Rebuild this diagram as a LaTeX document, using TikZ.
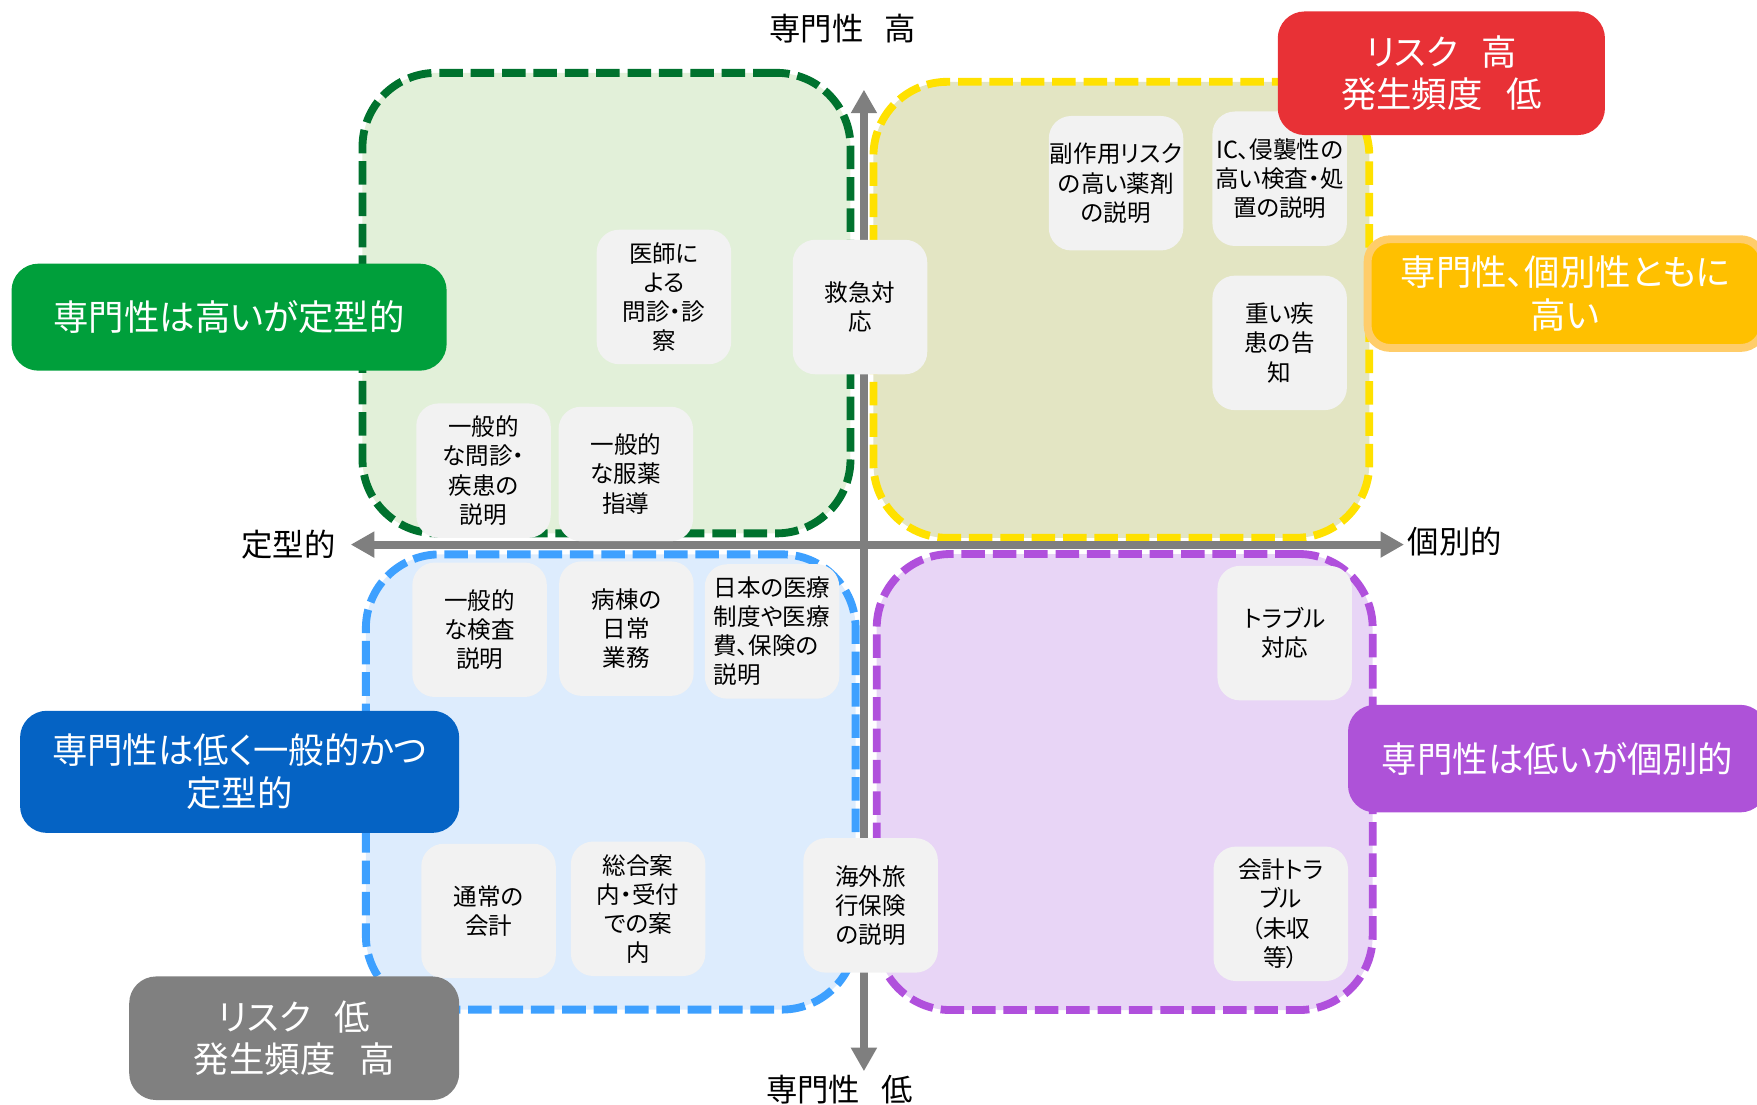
\documentclass[tikz,border=0pt]{standalone}
\usepackage{fontspec}
\setmainfont{Noto Sans CJK JP}[RawFeature={+palt}]
\usetikzlibrary{arrows.meta}
\newcommand\zsp{\makebox[0.66em][l]{　}}
\definecolor{greenfill}{HTML}{E2F0D9}
\definecolor{greenline}{HTML}{00722E}
\definecolor{yellowfill}{HTML}{E3E5C3}
\definecolor{yellowline}{HTML}{FFE100}
\definecolor{bluefill}{HTML}{DDECFD}
\definecolor{blueline}{HTML}{3DA0FF}
\definecolor{purplefill}{HTML}{E8D5F6}
\definecolor{purpleline}{HTML}{B050DC}
\definecolor{glab}{HTML}{009F3B}
\definecolor{rlab}{HTML}{E83136}
\definecolor{olab}{HTML}{FFC000}
\definecolor{olabline}{HTML}{FFCD6A}
\definecolor{blab}{HTML}{0563C4}
\definecolor{plab}{HTML}{AE52D8}
\definecolor{graylab}{HTML}{808080}
\definecolor{nodefill}{HTML}{F2F2F2}
\definecolor{axisgray}{HTML}{7F7F7F}
\tikzset{
  quad/.style={line width=3.5pt, dash pattern=on 10.5pt off 3.5pt, rounded corners=33pt, inner sep=0pt, outer sep=0pt},
  lab/.style={rounded corners=12pt, inner sep=0pt, outer sep=0pt, text=white, font=\fontsize{15.8pt}{19pt}\selectfont, align=center},
  item/.style={fill=nodefill, rounded corners=10pt, minimum width=60pt, minimum height=60pt, inner sep=0pt, font=\fontsize{10.5pt}{13pt}\selectfont, align=center, text=black},
  axisline/.style={draw=axisgray, line width=3.5pt, {Triangle[width=11pt,length=10.5pt]}-{Triangle[width=11pt,length=10.5pt]}},
  axlab/.style={font=\fontsize{14pt}{16pt}\selectfont, text=black, inner sep=0pt},
}
\begin{document}
\begin{tikzpicture}[x=0.5pt,y=-0.5pt]
\useasboundingbox (0,0) rectangle (1568,986);
\clip (0,0) rectangle (1568,986);
% quadrants
\node[quad, draw=greenline, fill=greenfill, minimum width=217.75pt, minimum height=205.5pt] (qg) at (541.25,270.5) {};
\node[quad, draw=yellowline, fill=yellowfill, minimum width=221.25pt, minimum height=203.5pt] (qy) at (1000.75,276.5) {};
\node[quad, draw=blueline, fill=bluefill, minimum width=218.55pt, minimum height=203.15pt] (qb) at (545.05,697.85) {};
\node[quad, draw=purpleline, fill=purplefill, minimum width=221.3pt, minimum height=203.5pt] (qp) at (1003.7,697.9) {};
% axes
\coordinate (vt) at (771,80);
\coordinate (vb) at (771,956);
\coordinate (hl) at (313,486);
\coordinate (hr) at (1253,486);
\draw[axisline] (hl) -- (hr);
\draw[axisline] (vb) -- (vt);
% items
\node[item] (n1) at (592.5,265) {医師に\\よる\\問診・診\\察};
\node[item] (n2) at (767.5,274) {救急対\\応};
\node[item] (n3) at (431.5,420) {一般的\\な問診・\\疾患の\\説明};
\node[item] (n4) at (558.5,423) {一般的\\な服薬\\指導};
\node[item] (n5) at (996,163.5) {副作用リスク\\の高い薬剤\\の説明};
\node[item] (n6) at (1142,159.5) {IC、侵襲性の\\高い検査・処\\置の説明};
\node[item] (n7) at (1142,306) {重い疾\\患の告\\知};
\node[item] (n8) at (428,562) {一般的\\な検査\\説明};
\node[item] (n9) at (559,561) {病棟の\\日常\\業務};
\node[item, align=left] (n10) at (689,563.5) {日本の医療\\制度や医療\\費、保険の\\説明};
\node[item] (n11) at (436,813) {通常の\\会計};
\node[item] (n12) at (569.5,811) {総合案\\内・受付\\での案\\内};
\node[item] (n13) at (777,808) {海外旅\\行保険\\の説明};
\node[item] (n14) at (1146.5,565) {トラブル\\対応};
\node[item] (n15) at (1143,815.5) {会計トラ\\ブル\\（未収\\等）};
% labels
\node[lab, fill=glab, minimum width=194.15pt, minimum height=47.75pt] (L1) at (204.45,283.05) {専門性は高いが定型的};
\node[lab, fill=rlab, minimum width=146pt, minimum height=55.15pt] (L2) at (1286.3,65.35) {リスク\zsp 高\\発生頻度\zsp 低};
\node[lab, fill=olab, draw=olabline, line width=3.5pt, rounded corners=10pt, minimum width=176.5pt, minimum height=48.5pt] (L3) at (1397,262) {専門性、個別性ともに\\高い};
\node[lab, fill=plab, minimum width=187pt, minimum height=48pt] (L4) at (1390,677) {専門性は低いが個別的};
\node[lab, fill=blab, minimum width=195.95pt, minimum height=54.5pt] (L5) at (213.85,688.8) {専門性は低く一般的かつ\\定型的};
\node[lab, fill=graylab, minimum width=147.25pt, minimum height=55.15pt] (L6) at (262.55,926.55) {リスク\zsp 低\\発生頻度\zsp 高};
% axis labels
\node[axlab] (ltop) at (752,25.5) {専門性\zsp 高};
\node[axlab] (lbot) at (749,972) {専門性\zsp 低};
\node[axlab, anchor=east] (lleft) at (300,486) {定型的};
\node[axlab, anchor=west] (lright) at (1256,483) {個別的};
\end{tikzpicture}
\end{document}
